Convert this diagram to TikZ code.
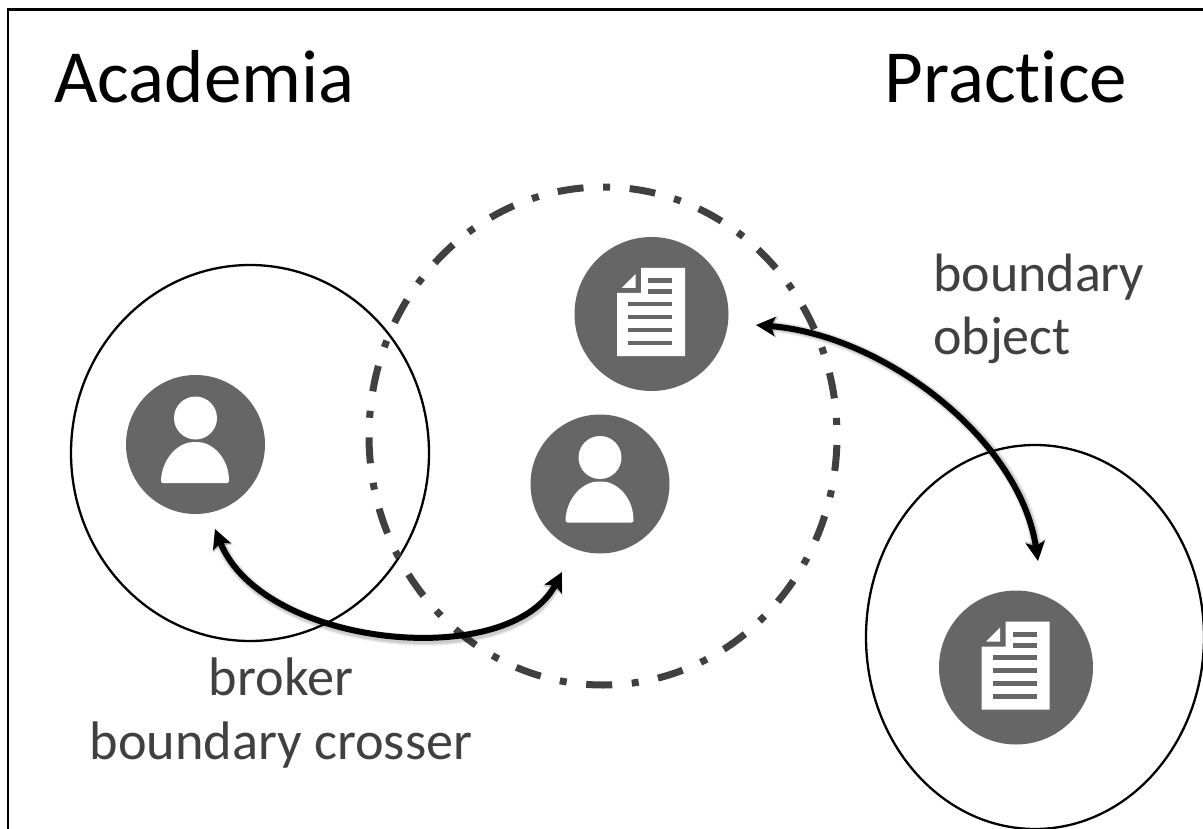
\documentclass[tikz,border=0pt]{standalone}
\usepackage{fontspec}
\setmainfont{Carlito}
\usetikzlibrary{arrows.meta}
\definecolor{icongray}{HTML}{666666}
\definecolor{labelgray}{HTML}{404040}
\tikzset{
  x=1pt,y=-1pt,
  frameline/.style={line width=2.2pt,black},
  ring/.style={line width=2.3pt,black},
  zone/.style={line width=7pt,labelgray,dash pattern=on 26pt off 19.63pt on 7pt off 19.63pt,dash phase=63.26pt},
  icondisc/.style={circle,fill=icongray,inner sep=0pt,minimum size=#1},
  title/.style={font=\fontsize{75}{75}\selectfont,text=black,anchor=base west,inner sep=0pt},
  lbl/.style={font=\fontsize{54}{54}\selectfont,text=labelgray,anchor=base west,inner sep=0pt},
  lblc/.style={font=\fontsize{54.3}{54.3}\selectfont,text=labelgray,anchor=base,inner sep=0pt},
  link/.style={line width=6pt,black,{Stealth[length=19pt,width=19pt,inset=4pt]}-{Stealth[length=19pt,width=19pt,inset=4pt]}},
  halo/.style={line width=#1,black,opacity=0.07,{Stealth[length=21pt,width=21pt,inset=4pt]}-{Stealth[length=21pt,width=21pt,inset=4pt]},xshift=2.5pt,yshift=-2.5pt},
}
\newcommand{\personicon}[1]{%
  \begin{scope}[shift={(#1)}]
    \fill[white] (0,-26.5) circle (21.5);
    \fill[white,rounded corners=2pt] (-34.5,38.5) -- (-34.5,35) .. controls (-32,12) and (-16,-2.5) .. (0,-2.5) .. controls (16,-2.5) and (32,12) .. (33.5,35) -- (33.5,38.5) -- cycle;
  \end{scope}}
\newcommand{\docicon}[1]{%
  \begin{scope}[shift={(#1)}]
    \fill[white] (-10.5,-46) -- (33.5,-46) -- (33.5,42) -- (-34.5,42) -- (-34.5,-21) -- (-10.5,-21) -- cycle;
    \fill[white] (-30,-26) -- (-16,-40) -- (-16,-26) -- cycle;
    \fill[icongray] (-3.5,-35.5) rectangle (20.5,-30.5);
    \fill[icongray] (-3.5,-24.5) rectangle (20.5,-19.5);
    \foreach \yy in {-10,3,16,29} \fill[icongray] (-23.5,\yy-2.3) rectangle (20.5,\yy+2.3);
  \end{scope}}
\begin{document}
\begin{tikzpicture}
\useasboundingbox (0,0) rectangle (1203,829);
\fill[white] (0,0) rectangle (1203,829);
\draw[frameline] (8,829) -- (8,9.5) -- (1203,9.5);
\node[title] (academia) at (54,103) {Academia};
\node[title] (practice) at (884.5,103) {Pract\kern0pt ice};
\node[lbl] (bo1) at (933,292) {boundary};
\node[lbl] (bo2) at (933,355) {object};
\node[lblc] (br1) at (281,695) {broker};
\node[lblc] (br2) at (281,759) {boundary crosser};
\node[icondisc=154pt] (docA) at (651.5,314) {};
\node[icondisc=139pt] (perA) at (195.5,444.5) {};
\node[icondisc=139pt] (perB) at (600,484) {};
\node[icondisc=154pt] (docB) at (1016,667.5) {};
\personicon{195.5,444.5}
\personicon{600,484}
\docicon{651.5,314}
\docicon{1016,667.5}
\draw[ring] (250,453) ellipse [x radius=179,y radius=188];
\draw[ring] (1035,637) ellipse [x radius=169,y radius=192];
\draw[zone] (603,436) ellipse [x radius=234,y radius=249];
\coordinate (a1) at (215,529);
\coordinate (a2) at (562,572);
\coordinate (b1) at (756,325);
\coordinate (b2) at (1038,561);
\foreach \w in {7pt,9pt,11pt}{
  \draw[halo=\w] (a1) .. controls (262,648) and (510,672) .. (a2);
  \draw[halo=\w] (b1) .. controls (885,335) and (1020,440) .. (b2);
}
\draw[link] (a1) .. controls (262,648) and (510,672) .. (a2);
\draw[link] (b1) .. controls (885,335) and (1020,440) .. (b2);
\end{tikzpicture}
\end{document}
